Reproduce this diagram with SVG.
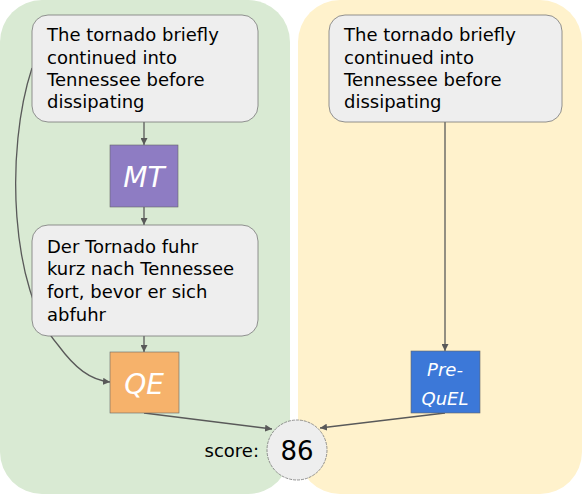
<svg xmlns="http://www.w3.org/2000/svg" width="582" height="494" viewBox="0 0 582 494">
<style>
.box{fill:#eeeeee;stroke:#777;stroke-width:0.8}
.t{font-family:"DejaVu Sans","Liberation Sans",sans-serif;font-size:18px;fill:#000}
.hw{font-family:"DejaVu Sans",sans-serif;font-style:italic;fill:#fff;text-anchor:middle}
.c{fill:none;stroke:#595959;stroke-width:1.3}
</style>
<defs>
<marker id="ah" viewBox="0 0 10 10" refX="10" refY="5" markerWidth="7" markerHeight="7" markerUnits="userSpaceOnUse" orient="auto">
<path d="M0,0 L10,5 L0,10 z" fill="#595959"/>
</marker>
</defs>
<g id="panels">
<rect x="0" y="0" width="290" height="494" rx="42" fill="#d9ead3"/>
<rect x="298" y="0" width="284" height="494" rx="42" fill="#fff2cc"/>
</g>
<g id="connectors">
<path class="c" d="M32,68 C5,150 10,290 58,345 C75,368 90,380 110,382" marker-end="url(#ah)"/>
<path class="c" d="M144,122 L144,145" marker-end="url(#ah)"/>
<path class="c" d="M144,207 L144,225" marker-end="url(#ah)"/>
<path class="c" d="M144,336 L144,352" marker-end="url(#ah)"/>
<path class="c" d="M445,122 L445,351" marker-end="url(#ah)"/>
<path class="c" d="M144,413 L272,429" marker-end="url(#ah)"/>
<path class="c" d="M445,413 L320,428" marker-end="url(#ah)"/>
</g>
<g id="src-left">
<rect class="box" x="32" y="15" width="226" height="107" rx="16"/>
<text class="t"><tspan x="47" y="41">The tornado briefly</tspan><tspan x="47" y="64">continued into</tspan><tspan x="47" y="86">Tennessee before</tspan><tspan x="47" y="108">dissipating</tspan></text>
</g>
<g id="mt">
<rect x="110" y="145" width="68" height="62" fill="#8e7cc3" stroke="#666" stroke-width="0.6"/>
<text class="hw" x="144" y="187" style="font-size:28px">MT</text>
</g>
<g id="target">
<rect class="box" x="32" y="225" width="226" height="111" rx="16"/>
<text class="t"><tspan x="47" y="253">Der Tornado fuhr</tspan><tspan x="47" y="275">kurz nach Tennessee</tspan><tspan x="47" y="298">fort, bevor er sich</tspan><tspan x="47" y="321">abfuhr</tspan></text>
</g>
<g id="qe">
<rect x="110" y="352" width="69" height="61" fill="#f6b26b" stroke="#666" stroke-width="0.6"/>
<text class="hw" x="144" y="394" style="font-size:28px">QE</text>
</g>
<g id="src-right">
<rect class="box" x="329" y="15" width="233" height="107" rx="16"/>
<text class="t"><tspan x="344" y="41">The tornado briefly</tspan><tspan x="344" y="64">continued into</tspan><tspan x="344" y="86">Tennessee before</tspan><tspan x="344" y="108">dissipating</tspan></text>
</g>
<g id="prequel">
<rect x="411" y="351" width="69" height="62" fill="#3c78d8" stroke="#666" stroke-width="0.6"/>
<text class="hw" style="font-size:18px"><tspan x="445" y="376">Pre-</tspan><tspan x="445" y="405">QuEL</tspan></text>
</g>
<g id="score">
<text class="t" x="259" y="457" text-anchor="end">score:</text>
<circle cx="297" cy="450" r="30" fill="#eeeeee" stroke="#777" stroke-width="0.8" stroke-dasharray="3 1"/>
<text class="t" x="297" y="460" text-anchor="middle" style="font-size:26px">86</text>
</g>
</svg>
